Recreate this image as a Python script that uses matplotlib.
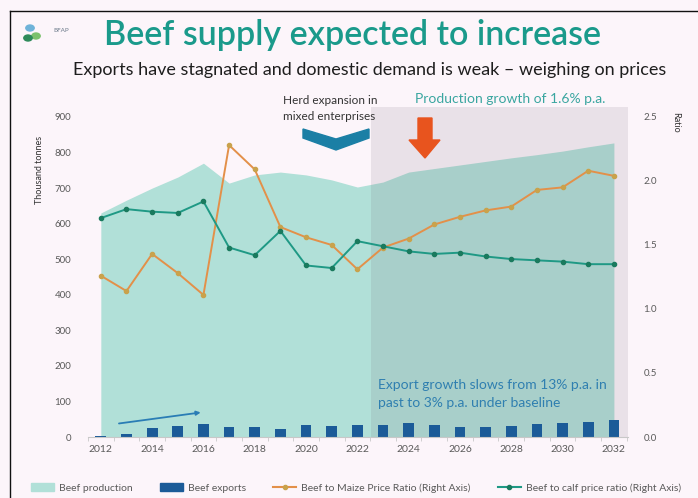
import numpy as np
import matplotlib.pyplot as plt
from matplotlib.patches import Patch, Polygon
from matplotlib.lines import Line2D

plt.rcParams['font.family'] = ['Lato', 'DejaVu Sans']

# данные
years = np.arange(2012, 2033)
production = [630, 666, 700, 731, 770, 714, 737, 745, 737, 723, 703,
              717, 745, 755, 765, 775, 785, 794, 804, 816, 827]
exports = [4, 9, 24, 32, 36, 29, 27, 22, 34, 31, 35,
           34, 40, 34, 29, 29, 31, 36, 40, 43, 48]
maize_ratio = [1.26, 1.14, 1.43, 1.28, 1.11, 2.28, 2.09, 1.64, 1.56, 1.50, 1.31,
               1.48, 1.55, 1.66, 1.72, 1.77, 1.80, 1.93, 1.95, 2.08, 2.04]
calf_ratio = [1.71, 1.78, 1.76, 1.75, 1.84, 1.48, 1.42, 1.61, 1.34, 1.32, 1.53,
              1.49, 1.45, 1.43, 1.44, 1.41, 1.39, 1.38, 1.37, 1.35, 1.35]
left_ticks = [0, 100, 200, 300, 400, 500, 600, 700, 800, 900]
right_ticks = [0.0, 0.5, 1.0, 1.5, 2.0, 2.5]
x_ticks = list(range(2012, 2033, 2))

W, H = 698, 498
BG = '#fcf5fa'
C_AREA = '#b1e0d8'
C_BAR = '#1b5b98'
C_MAIZE = '#e39049'
C_MAIZE_M = '#c9a24c'
C_CALF = '#1f9985'
C_CALF_M = '#1a7a5e'
C_TXT = '#5a5a5a'


def px(x, y):
    # пиксели (от верхнего левого угла) -> доли фигуры
    return x / W, 1 - y / H


fig = plt.figure(figsize=(W / 100, H / 100), dpi=100, facecolor=BG)

l, b = px(88, 437)
r, t = px(628, 107)
ax = fig.add_axes([l, b, r - l, t - b])
ax.patch.set_visible(False)

ymax = 928
ax.set_xlim(2011.55, 2032.55)
ax.set_ylim(0, ymax)

ax.fill_between(years, production, color=C_AREA, lw=0, zorder=1)
ax.axvspan(2022.55, 2032.55, color='#6f5f70', alpha=0.13, lw=0, zorder=1.5)
ax.bar(years, exports, width=0.42, color=C_BAR, zorder=2)

ax.set_yticks(left_ticks)
ax.set_xticks(x_ticks)
ax.set_xticks(np.arange(2011.5, 2033, 1), minor=True)
ax.tick_params(axis='y', length=0, labelsize=7, labelcolor=C_TXT, pad=12)
ax.tick_params(axis='x', which='major', length=0, labelsize=7.5, labelcolor=C_TXT, pad=6)
ax.tick_params(axis='x', which='minor', length=3, color='#c8c8c8')
for s in ['top', 'right', 'left']:
    ax.spines[s].set_visible(False)
ax.spines['bottom'].set_color('#c8c8c8')
ax.spines['bottom'].set_linewidth(0.8)

ax2 = ax.twinx()
ax2.set_ylim(0, 2.5 * ymax / 900)
ax2.plot(years, maize_ratio, color=C_MAIZE, lw=1.4, marker='o', ms=3,
         mfc=C_MAIZE_M, mec=C_MAIZE_M, zorder=3)
ax2.plot(years, calf_ratio, color=C_CALF, lw=1.4, marker='o', ms=3,
         mfc=C_CALF_M, mec=C_CALF_M, zorder=3)
ax2.set_yticks(right_ticks)
ax2.set_yticklabels([f'{v:.1f}' for v in right_ticks])
ax2.tick_params(axis='y', length=0, labelsize=7, labelcolor=C_TXT, pad=11)
for s in ax2.spines.values():
    s.set_visible(False)

# подписи осей
fig.text(*px(40, 170), 'Thousand tonnes', rotation=90, ha='center', va='center',
         fontsize=6.5, color='#333333')
fig.text(*px(676, 122), 'Ratio', rotation=270, ha='center', va='center',
         fontsize=6.5, color='#333333')

# заголовки
fig.text(*px(352, 35), 'Beef supply expected to increase', ha='center', va='center',
         fontsize=24.5, fontweight='semibold', color='#1a9a8b')
fig.text(*px(370, 70), 'Exports have stagnated and domestic demand is weak \u2013 weighing on prices',
         ha='center', va='center', fontsize=13, color='#1e1e1e')
fig.text(*px(53, 30), 'BFAP', ha='left', va='center', fontsize=4.5, color='#6b7a8a')
for (cx, cy, cc) in [(30, 28, '#6fb3d9'), (36, 36, '#7cc16c'), (28, 38, '#2e8a5a')]:
    fig.patches.append(plt.Circle(px(cx, cy), 0.006, color=cc,
                                  transform=fig.transFigure, figure=fig))

# аннотации
fig.text(*px(283, 101), 'Herd expansion in', ha='left', va='center',
         fontsize=8.5, color='#333333')
fig.text(*px(283, 116), 'mixed enterprises', ha='left', va='center',
         fontsize=8.5, color='#333333')
chev = [px(303, 129), px(336, 139), px(369, 129), px(369, 138), px(336, 150), px(303, 138)]
fig.patches.append(Polygon(chev, closed=True, color='#1b7fa5',
                           transform=fig.transFigure, figure=fig))
arrow = [px(418, 118), px(432, 118), px(432, 140), px(440, 140), px(425, 158),
         px(409, 140), px(418, 140)]
fig.patches.append(Polygon(arrow, closed=True, color='#e8541e',
                           transform=fig.transFigure, figure=fig))
fig.text(*px(415, 99), 'Production growth of 1.6% p.a.', ha='left', va='center',
         fontsize=10, color='#3aa6a0')
fig.text(*px(378, 385), 'Export growth slows from 13% p.a. in', ha='left', va='center',
         fontsize=10, color='#2f7fb0')
fig.text(*px(378, 403), 'past to 3% p.a. under baseline', ha='left', va='center',
         fontsize=10, color='#2f7fb0')
ax.annotate('', xy=(2016.0, 70), xytext=(2012.6, 37),
            arrowprops=dict(arrowstyle='-|>', color='#2a7db5', lw=1.3,
                            mutation_scale=6), zorder=4)

# рамка скриншота
fig.lines.append(Line2D([px(10, 0)[0], 1], [px(0, 11)[1]] * 2, color='#111111', lw=1,
                        transform=fig.transFigure))
fig.lines.append(Line2D([px(10, 0)[0]] * 2, [0, px(0, 11)[1]], color='#111111', lw=1,
                        transform=fig.transFigure))

handles = [Patch(color=C_AREA, label='Beef production'),
           Patch(color=C_BAR, label='Beef exports'),
           Line2D([], [], color=C_MAIZE, marker='o', ms=3, mfc=C_MAIZE_M, mec=C_MAIZE_M,
                  label='Beef to Maize Price Ratio (Right Axis)'),
           Line2D([], [], color=C_CALF, marker='o', ms=3, mfc=C_CALF_M, mec=C_CALF_M,
                  label='Beef to calf price ratio (Right Axis)')]
leg = fig.legend(handles=handles, loc='center', bbox_to_anchor=px(356, 488), ncol=4,
                 frameon=False, fontsize=7.5, handlelength=2.2, columnspacing=2.6,
                 handletextpad=0.5)
for txt in leg.get_texts():
    txt.set_color(C_TXT)

fig.savefig('out.png', dpi=100, facecolor=BG)
